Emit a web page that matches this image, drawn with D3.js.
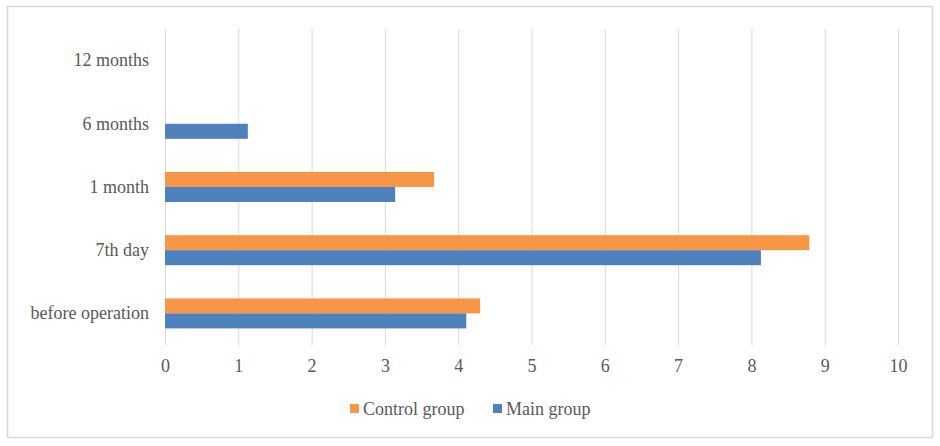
<!DOCTYPE html>
<html>
<head>
<meta charset="utf-8">
<script src="https://cdn.jsdelivr.net/npm/d3@7"></script>
<style>
	body { margin: 0; background: #fff; }
</style>
</head>
<body>
<svg width="940" height="446"></svg>
<script>
// data
var categories = ["before operation", "7th day", "1 month", "6 months", "12 months"];
var controlValues = [4.30, 8.79, 3.67, 0, 0];
var mainValues = [4.11, 8.13, 3.14, 1.13, 0];
var ticks = [0, 1, 2, 3, 4, 5, 6, 7, 8, 9, 10];
var seriesNames = ["Control group", "Main group"];
var seriesColors = ["#F79646", "#4F81BD"];

var fontFamily = "Liberation Serif, Tinos, DejaVu Serif, Times New Roman, serif";
var fontSize = "18px";
var textColor = "#595959";

var svg = d3.select("svg");

svg.append("rect")
	.attr("x", 7.5)
	.attr("y", 6.5)
	.attr("width", 925)
	.attr("height", 431)
	.attr("fill", "#fff")
	.attr("stroke", "#d9d9d9")
	.attr("stroke-width", 1.5);

var x = d3.scaleLinear().domain([0, 10]).range([165, 898]);
var y = d3.scaleBand().domain(categories).range([345, 29]).paddingInner(0.525).paddingOuter(0.2625);
var sub = d3.scaleBand().domain(seriesNames).range([0, y.bandwidth()]);

// gridlines
svg.append("g")
	.selectAll("line")
	.data(ticks)
	.join("line")
	.attr("x1", function(d) { return x(d) + 0.5; })
	.attr("x2", function(d) { return x(d) + 0.5; })
	.attr("y1", 29)
	.attr("y2", 345)
	.attr("stroke", "#d9d9d9")
	.attr("stroke-width", 1);

var rows = categories.map(function(c, i) {
	return [
		{cat: c, name: seriesNames[0], value: controlValues[i], color: seriesColors[0]},
		{cat: c, name: seriesNames[1], value: mainValues[i], color: seriesColors[1]}
	];
});

svg.append("g")
	.selectAll("g")
	.data(rows)
	.join("g")
	.attr("transform", function(d) { return "translate(0," + y(d[0].cat) + ")"; })
	.selectAll("rect")
	.data(function(d) { return d.filter(function(e) { return e.value > 0; }); })
	.join("rect")
	.attr("x", x(0))
	.attr("y", function(d) { return sub(d.name); })
	.attr("width", function(d) { return x(d.value) - x(0); })
	.attr("height", sub.bandwidth())
	.attr("fill", function(d) { return d.color; });

// x axis labels
var xAxis = svg.append("g")
	.attr("transform", "translate(0,345)")
	.call(d3.axisBottom(x).tickValues(ticks).tickSize(0).tickPadding(14).tickFormat(d3.format("d")));
xAxis.select(".domain").remove();
xAxis.selectAll("text")
	.style("font-family", fontFamily)
	.style("font-size", fontSize)
	.attr("fill", textColor);

// y axis labels
var yAxis = svg.append("g")
	.attr("transform", "translate(149,0)")
	.call(d3.axisLeft(y).tickSize(0).tickPadding(0));
yAxis.select(".domain").remove();
yAxis.selectAll("text")
	.style("font-family", fontFamily)
	.style("font-size", fontSize)
	.attr("fill", textColor);

// legend
var legendX = [350, 493];
var legend = svg.append("g")
	.selectAll("g")
	.data(seriesNames)
	.join("g")
	.attr("transform", function(d, i) { return "translate(" + legendX[i] + ",409)"; });
legend.append("rect")
	.attr("x", 0)
	.attr("y", -5)
	.attr("width", 9)
	.attr("height", 9)
	.attr("fill", function(d, i) { return seriesColors[i]; });
legend.append("text")
	.attr("x", 13)
	.attr("y", 0)
	.attr("dy", "0.35em")
	.style("font-family", fontFamily)
	.style("font-size", fontSize)
	.attr("fill", textColor)
	.text(function(d) { return d; });
</script>
</body>
</html>
